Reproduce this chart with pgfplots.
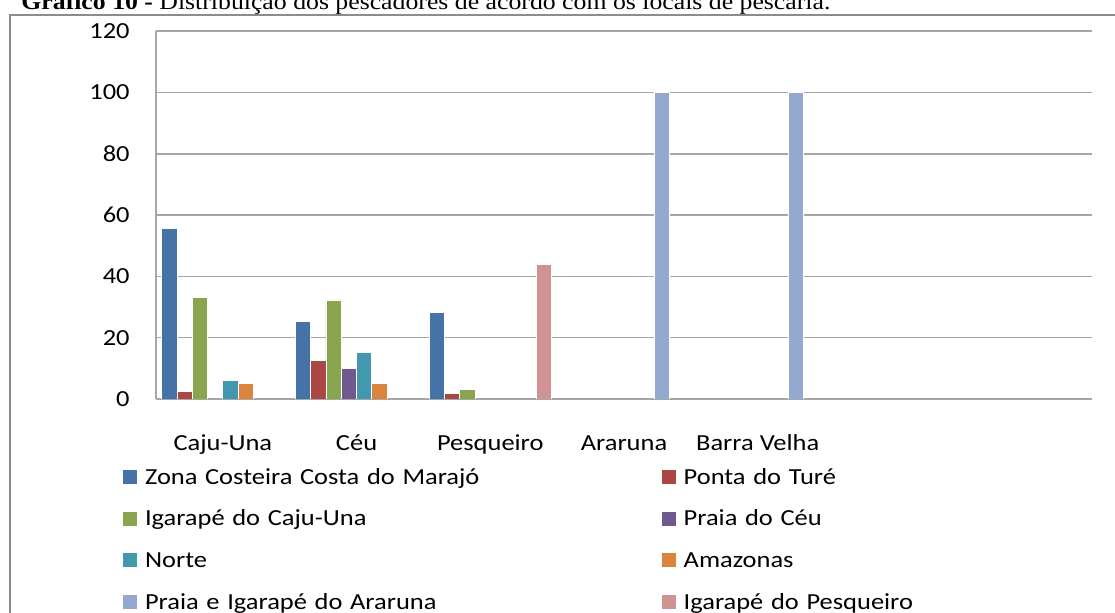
\documentclass[border=0pt]{standalone}
\usepackage{pgfplots}
\pgfplotsset{compat=1.18}
\usepackage{fontspec}
\setmainfont[FakeStretch=1.15]{Carlito}
\newfontfamily\titlefont[FakeStretch=1.12]{Liberation Serif}

\definecolor{c1}{HTML}{4572A7}
\definecolor{c2}{HTML}{AA4643}
\definecolor{c3}{HTML}{89A54E}
\definecolor{c4}{HTML}{71588F}
\definecolor{c5}{HTML}{4198AF}
\definecolor{c6}{HTML}{DB843D}
\definecolor{c7}{HTML}{93A9CF}
\definecolor{c8}{HTML}{D19392}
\definecolor{gridc}{HTML}{A6A6A6}
\definecolor{framec}{HTML}{8C8C8C}

\begin{document}
\begin{tikzpicture}[font=\fontsize{11.5}{13}\selectfont]
% 1px = 0.5pt, origin at top left of the picture
\useasboundingbox (0,0) rectangle (557.5pt,-306.5pt);
\clip (0,0) rectangle (557.5pt,-306.5pt);
\draw[line width=1pt, framec] (4.75pt,-7.5pt) rectangle (570pt,-320pt);
\node[anchor=base west, inner sep=0pt, font=\titlefont\fontsize{11.5}{13}\selectfont]
  at (10.5pt,-4.75pt) {\textbf{Gráfico 10 -} Distribuição dos pescadores de acordo com os locais de pescaria.};

\begin{axis}[
  scale only axis, width=468pt, height=183.9pt,
  at={(78pt,-199.5pt)}, anchor=south west,
  ybar=0pt, bar width=7.65pt,
  xmin=-0.5, xmax=6.5, ymin=0, ymax=120,
  xtick={0,1,2,3,4},
  xticklabels={Caju-Una,Céu,Pesqueiro,Araruna,Barra Velha},
  ytick={0,20,...,120},
  ymajorgrids, grid style={line width=0.8pt, gridc},
  axis x line*=bottom, axis y line*=left,
  axis line style={line width=0.8pt, gridc},
  major tick length=0pt,
  xticklabel style={anchor=base, yshift=-25.85pt, inner sep=0pt},
  yticklabel style={anchor=east, xshift=-13pt, inner sep=0pt},
  /pgf/number format/assume math mode=true,
  every axis plot/.append style={draw=white, line width=0.4pt,
    legend image code/.code={\path[##1, draw=none] (0pt,-2.75pt) rectangle (7pt,4.25pt);}},
  legend columns=2, legend cell align=left,
  legend style={at={(-16.35pt,-34.65pt)}, anchor=north west, draw=none, fill=none,
    inner sep=0pt, outer sep=0pt, row sep=10.3pt,
    nodes={inner sep=0pt, text height=8pt, text depth=2.5pt, text width=248.5pt},
    /tikz/every odd column/.append style={column sep=3.85pt},
    /tikz/every even column/.append style={column sep=10pt}},
]
\addplot[fill=c1] coordinates {(0,55.7) (1,25.2) (2,28.2)};
\addplot[fill=c2] coordinates {(0,2.6) (1,12.6) (2,1.9)};
\addplot[fill=c3] coordinates {(0,33.2) (1,32.3) (2,3.2)};
\addplot[fill=c4] coordinates {(1,10.1)};
\addplot[fill=c5] coordinates {(0,6.0) (1,15.2)};
\addplot[fill=c6] coordinates {(0,5.1) (1,5.1)};
\addplot[fill=c7] coordinates {(3,100) (4,100)};
\addplot[fill=c8] coordinates {(2,44.0)};
\legend{Zona Costeira Costa do Marajó, Ponta do Turé, Igarapé do Caju-Una, Praia do Céu, Norte, Amazonas, Praia e Igarapé do Araruna, Igarapé do Pesqueiro}
\end{axis}
\end{tikzpicture}
\end{document}
